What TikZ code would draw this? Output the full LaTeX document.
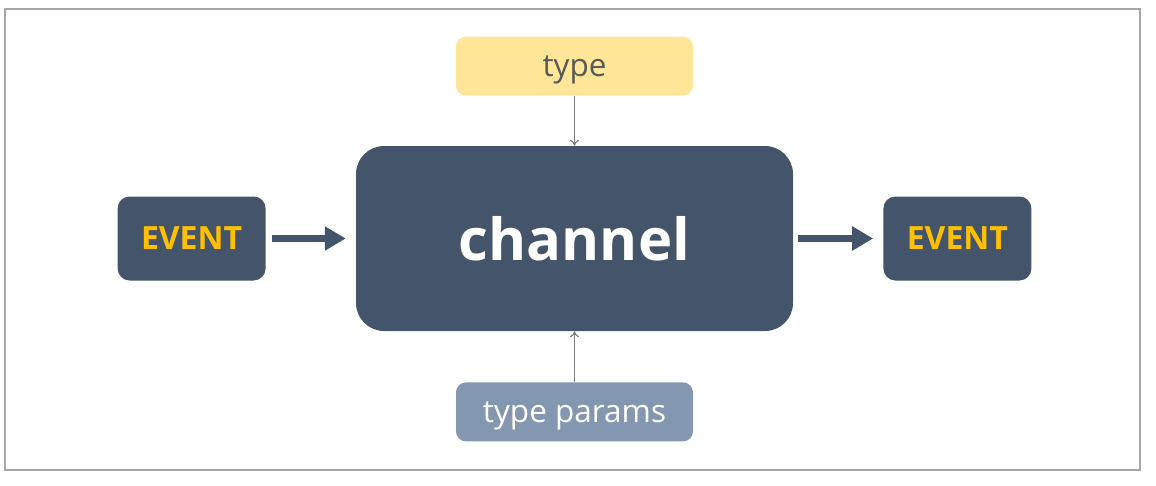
\documentclass[tikz,border=0pt]{standalone}
\usepackage{fontspec}
\setmainfont{Open Sans}
\usepackage{xcolor}
\usetikzlibrary{arrows.meta, positioning}
\definecolor{slate}{HTML}{44546A}
\definecolor{gold}{HTML}{FFC000}
\definecolor{paleyellow}{HTML}{FFE699}
\definecolor{paleslate}{HTML}{8497B0}
\definecolor{frame}{HTML}{A6A6A6}
\tikzset{
  eventbox/.style={rectangle,rounded corners=12pt,fill=slate,text=gold,font=\fontsize{32}{36}\selectfont\bfseries,minimum width=148pt,minimum height=84pt,inner sep=0pt},
  chanbox/.style={rectangle,rounded corners=28pt,fill=slate,text=white,font=\fontsize{58}{64}\selectfont\bfseries,minimum width=437pt,minimum height=185pt,inner sep=0pt},
  inbox/.style={rectangle,rounded corners=10pt,minimum width=237pt,minimum height=59pt,inner sep=0pt,text depth=0pt,font=\fontsize{31.5}{34}\selectfont},
  flowarrow/.style={-{Triangle[length=21pt,width=23pt]}, line width=7pt, color=slate},
  feedarrow/.style={-{To[length=6pt,width=9pt]}, line width=1.2pt, color=gray}
}
\begin{document}
\begin{tikzpicture}[x=1pt,y=-1pt]
  \useasboundingbox (0,0) rectangle (1156,485);
  \draw[frame, line width=1.5pt] (5,9) rectangle (1140,470);
  \node[chanbox] (chan) at (574.5,238.5) {channel};
  \node[eventbox, left=90pt of chan] (evin) {EVENT};
  \node[eventbox, right=90pt of chan] (evout) {EVENT};
  \node[inbox, fill=paleyellow, text=black!65, above=50pt of chan] (type) {type};
  \node[inbox, fill=paleslate, text=white, below=51pt of chan] (params) {type params};
  \draw[flowarrow, shorten <=6pt, shorten >=10pt] (evin) -- (chan);
  \draw[flowarrow, shorten <=5pt, shorten >=10pt] (chan) -- (evout);
  \draw[feedarrow] (type) -- (chan);
  \draw[feedarrow] (params) -- (chan);
\end{tikzpicture}
\end{document}
